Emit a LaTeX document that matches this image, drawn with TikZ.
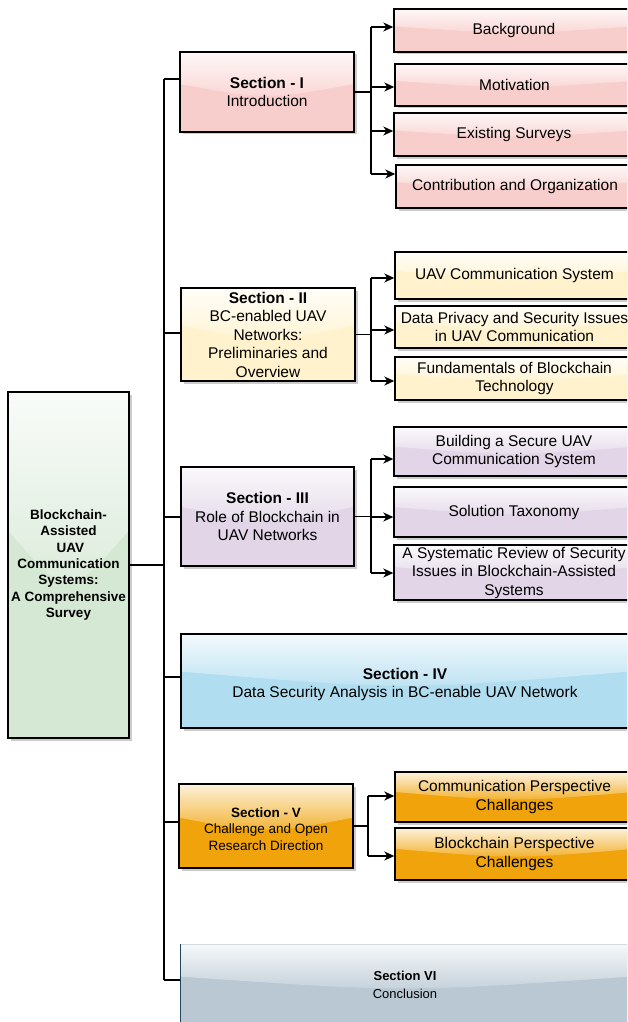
\documentclass[tikz,border=0pt]{standalone}
\usepackage{fontspec}
\setmainfont{Liberation Sans}
\usetikzlibrary{arrows.meta}
\definecolor{pinkc}{HTML}{F8CECC}
\definecolor{yellowc}{HTML}{FFF2CC}
\definecolor{purplec}{HTML}{E1D5E7}
\definecolor{bluec}{HTML}{B1DDF0}
\definecolor{orangec}{HTML}{F0A30A}
\definecolor{greenc}{HTML}{D5E8D4}
\definecolor{grayc}{HTML}{BAC8D3}
\definecolor{slatec}{HTML}{23445D}
\tikzset{
  boxnode/.style={draw=black, line width=1.4pt, align=center, inner sep=0pt},
  conn/.style={line width=1.4pt, draw=black},
  arr/.style={conn, -{Stealth[length=10pt,width=9pt,inset=3pt]}},
}
\newcommand\fA{\fontsize{15.5}{18.5}\selectfont}
\newcommand\fM{\fontsize{13.5}{16.3}\selectfont\bfseries}
\newcommand\fV{\fontsize{13.5}{16.5}\selectfont}
\newcommand\fVI{\fontsize{13}{18}\selectfont}
% #1 name, #2 colour, #3 x1, #4 y1, #5 x2, #6 y2, #7 node options, #8 text
\newcommand\gbox[8]{%
  \fill[black,opacity=0.2] (#3+2.5,#4+2.5) rectangle (#5+2.5,#6+2.5);
  \fill[#2] (#3,#4) rectangle (#5,#6);
  \shade[top color=white!85!#2, bottom color=white!12!#2]
    (#3,#4) -- (#3,{#4+0.4*(#6-#4)})
    .. controls ({(#3+#5)/2},{#4+0.6*(#6-#4)}) .. (#5,{#4+0.4*(#6-#4)})
    -- (#5,#4) -- cycle;
  \node[boxnode, minimum width={(#5-#3)*1pt}, minimum height={(#6-#4)*1pt}, #7]
    (#1) at ({(#3+#5)/2},{(#4+#6)/2}) {#8};
}
\begin{document}
\begin{tikzpicture}[x=1pt,y=-1pt]
\useasboundingbox (0,0) rectangle (627,1022);
\clip (0,0) rectangle (627,1022);

% main
\gbox{main}{greenc}{8}{392}{129}{738}{font=\fM}{Blockchain-\\Assisted\\~UAV\\Communication\\Systems:\\A Comprehensive\\Survey}

% Section I
\gbox{s1}{pinkc}{180}{52}{354}{132}{font=\fA}{\textbf{Section - I}\\Introduction}
\gbox{c11}{pinkc}{394}{9}{634}{52}{font=\fA}{Background}
\gbox{c12}{pinkc}{395}{64}{634}{106}{font=\fA}{Motivation}
\gbox{c13}{pinkc}{394}{113}{634}{156}{font=\fA}{Existing Surveys}
\gbox{c14}{pinkc}{396}{165}{634}{208}{font=\fA}{Contribution and Organization}

% Section II
\gbox{s2}{yellowc}{181}{288}{355}{381}{font=\fA}{\textbf{Section - II}\\BC-enabled UAV\\Networks:\\Preliminaries and\\Overview}
\gbox{c21}{yellowc}{395}{252}{634}{299}{font=\fA}{UAV Communication System}
\gbox{c22}{yellowc}{395}{306}{634}{348}{font=\fA}{Data Privacy and Security Issues\\in UAV Communication}
\gbox{c23}{yellowc}{395}{357}{634}{400}{font=\fA}{Fundamentals of Blockchain\\Technology}

% Section III
\gbox{s3}{purplec}{181}{467}{354}{566}{font=\fA}{\textbf{Section - III}\\Role of Blockchain in\\UAV Networks}
\gbox{c31}{purplec}{394}{427}{634}{476}{font=\fA}{Building a Secure UAV\\Communication System}
\gbox{c32}{purplec}{394}{487}{634}{537}{font=\fA}{Solution Taxonomy}
\gbox{c33}{purplec}{394}{545}{634}{600}{font=\fA}{A Systematic Review of Security\\Issues in Blockchain-Assisted\\Systems}

% Section IV
\gbox{s4}{bluec}{181}{634}{629}{728}{font=\fA}{\rule{0pt}{18pt}\textbf{Section - IV}\\Data Security Analysis in BC-enable UAV Network}

% Section V
\gbox{s5}{orangec}{179}{784}{353}{868}{font=\fV}{\rule{0pt}{16pt}\textbf{Section - V}\\Challenge and Open\\Research Direction}
\gbox{c51}{orangec}{395}{772}{634}{822}{font=\fA}{Communication Perspective\\Challanges}
\gbox{c52}{orangec}{395}{828}{634}{880}{font=\fA}{Blockchain Perspective\\Challenges}

% Section VI
\gbox{s6}{grayc}{181}{945}{629}{1024}{font=\fVI, draw=none}{\textbf{Section VI}\\Conclusion}
\draw[line width=1pt, draw=white!80!slatec] (s6.north west) -- (s6.north east);
\draw[line width=1.4pt, draw=slatec] (s6.north west) -- (s6.south west);

% trunk
\coordinate (T1) at (164,79);
\coordinate (T2) at (164,333);
\coordinate (T3) at (164,517);
\coordinate (T4) at (164,677);
\coordinate (T5) at (164,822);
\coordinate (T6) at (164,980);
\draw[conn] (T1) -- (T6);
\draw[conn] (main.east) -- (main.east -| T1);
\draw[conn] (T1) -- (T1 -| s1.west);
\draw[conn] (T2) -- (T2 -| s2.west);
\draw[conn] (T3) -- (T3 -| s3.west);
\draw[conn] (T4) -- (T4 -| s4.west);
\draw[conn] (T5) -- (T5 -| s5.west);
\draw[conn] (T6) -- (T6 -| s6.west);

% Section I branches
\coordinate (B11) at (371,27);
\coordinate (B12) at (371,87);
\coordinate (B13) at (371,131);
\coordinate (B14) at (371,174);
\draw[conn] (s1.east) -- (s1.east -| B11);
\draw[conn] (B11) -- (B14);
\draw[arr] (B11) -- (B11 -| c11.west);
\draw[arr] (B12) -- (B12 -| c12.west);
\draw[arr] (B13) -- (B13 -| c13.west);
\draw[arr] (B14) -- (B14 -| c14.west);

% Section II branches
\coordinate (B21) at (371,278);
\coordinate (B22) at (371,330);
\coordinate (B23) at (371,381);
\draw[conn] (s2.east) -- (s2.east -| B21);
\draw[conn] (B21) -- (B23);
\draw[arr] (B21) -- (B21 -| c21.west);
\draw[arr] (B22) -- (B22 -| c22.west);
\draw[arr] (B23) -- (B23 -| c23.west);

% Section III branches
\coordinate (B31) at (371,459);
\coordinate (B32) at (371,517);
\coordinate (B33) at (371,573);
\draw[conn] (s3.east) -- (s3.east -| B31);
\draw[conn] (B31) -- (B33);
\draw[arr] (B31) -- (B31 -| c31.west);
\draw[arr] (B32) -- (B32 -| c32.west);
\draw[arr] (B33) -- (B33 -| c33.west);

% Section V branches
\coordinate (B51) at (368,796);
\coordinate (B52) at (368,856);
\draw[conn] (s5.east) -- (s5.east -| B51);
\draw[conn] (B51) -- (B52);
\draw[arr] (B51) -- (B51 -| c51.west);
\draw[arr] (B52) -- (B52 -| c52.west);
\end{tikzpicture}
\end{document}
